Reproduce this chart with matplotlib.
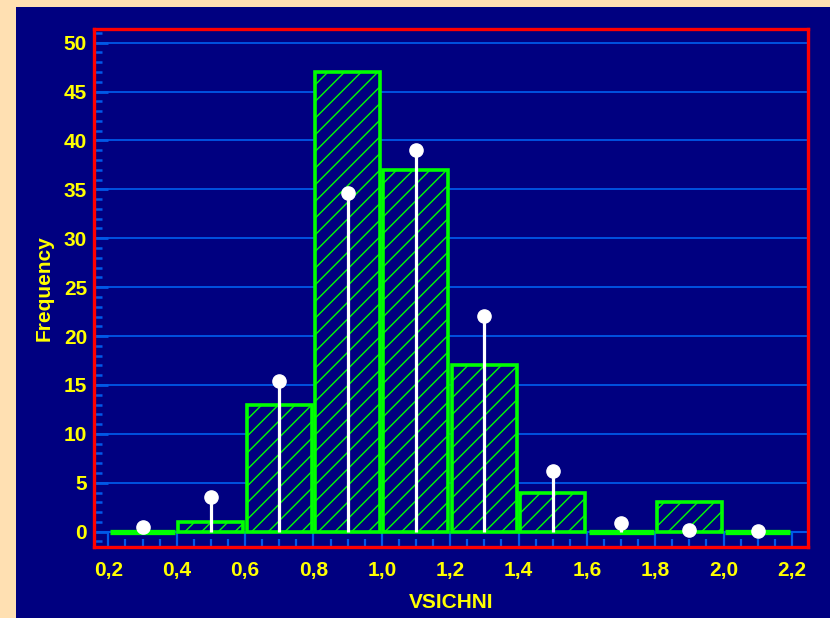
import matplotlib
matplotlib.use("Agg")
import matplotlib.pyplot as plt
from matplotlib.patches import Rectangle
from matplotlib.ticker import FixedLocator, MultipleLocator

# ---- data ----
bin_centers = [0.3, 0.5, 0.7, 0.9, 1.1, 1.3, 1.5, 1.7, 1.9, 2.1]
frequencies = [0, 1, 13, 47, 37, 17, 4, 0, 3, 0]
expected = [0.5, 3.5, 15.4, 34.6, 39.0, 22.1, 6.2, 0.9, 0.2, 0.1]
x_ticks = [0.2, 0.4, 0.6, 0.8, 1.0, 1.2, 1.4, 1.6, 1.8, 2.0, 2.2]
x_tick_labels = ["0,2", "0,4", "0,6", "0,8", "1,0", "1,2", "1,4", "1,6", "1,8", "2,0", "2,2"]
y_ticks = [0, 5, 10, 15, 20, 25, 30, 35, 40, 45, 50]

NAVY = "#000080"
PEACH = "#FFE0B2"
RED = "#FF0000"
GREEN = "#00FF00"
YELLOW = "#FFFF00"
BLUE = "#0058E8"

plt.rcParams["font.family"] = ["Liberation Sans", "DejaVu Sans"]
plt.rcParams["font.weight"] = "bold"
plt.rcParams["hatch.linewidth"] = 1.0

W, H = 830, 618
fig = plt.figure(figsize=(W / 100, H / 100), dpi=100, facecolor=PEACH)
fig.patches.append(Rectangle((16 / W, 0), 1 - 16 / W, 1 - 7 / H, transform=fig.transFigure,
                             facecolor=NAVY, edgecolor="none", zorder=-5))

ax_l, ax_r, ax_t, ax_b = 94, 808, 28.7, 547.3
ax = fig.add_axes([ax_l / W, 1 - ax_b / H, (ax_r - ax_l) / W, (ax_b - ax_t) / H])
ax.set_facecolor(NAVY)

edge_widths = [3.8 if f == 0 else 2.6 for f in frequencies]
ax.bar(bin_centers, frequencies, width=0.19, facecolor=NAVY, edgecolor=GREEN,
       linewidth=edge_widths, hatch="//", zorder=3)
ax.vlines(bin_centers, 0, expected, color="white", linewidth=2.3, zorder=4)
ax.plot(bin_centers, expected, "o", color="white", markersize=9.5, zorder=5)

ax.set_xlim(0.158, 2.247)
ax.set_ylim(-1.6, 51.43)

ax.xaxis.set_major_locator(FixedLocator(x_ticks))
ax.set_xticklabels(x_tick_labels)
ax.xaxis.set_minor_locator(MultipleLocator(0.05))
ax.yaxis.set_major_locator(FixedLocator(y_ticks))
ax.yaxis.set_minor_locator(MultipleLocator(1))

ax.axhline(0, color=BLUE, linewidth=1.5, zorder=1)
ax.yaxis.grid(True, which="major", color=BLUE, linewidth=1.3, zorder=1)
ax.set_axisbelow(True)

ax.tick_params(axis="x", which="major", direction="in", length=11, width=1.6, color=BLUE,
               labelcolor=YELLOW, labelsize=15, pad=10)
ax.tick_params(axis="x", which="minor", direction="in", length=6, width=1.6, color=BLUE)
ax.tick_params(axis="y", which="major", direction="in", length=10, width=2.0, color=BLUE,
               labelcolor=YELLOW, labelsize=15, pad=5)
ax.tick_params(axis="y", which="minor", direction="in", length=5.5, width=1.8, color=BLUE)
for lab in ax.get_xticklabels() + ax.get_yticklabels():
    lab.set_fontweight("bold")

for s in ax.spines.values():
    s.set_color(RED)
    s.set_linewidth(2.4)

ax.set_xlabel("VSICHNI", color=YELLOW, fontsize=15, fontweight="bold", labelpad=9)
ax.set_ylabel("Frequency", color=YELLOW, fontsize=15, fontweight="bold", labelpad=7)

fig.savefig("out.png", dpi=100, facecolor=PEACH)
